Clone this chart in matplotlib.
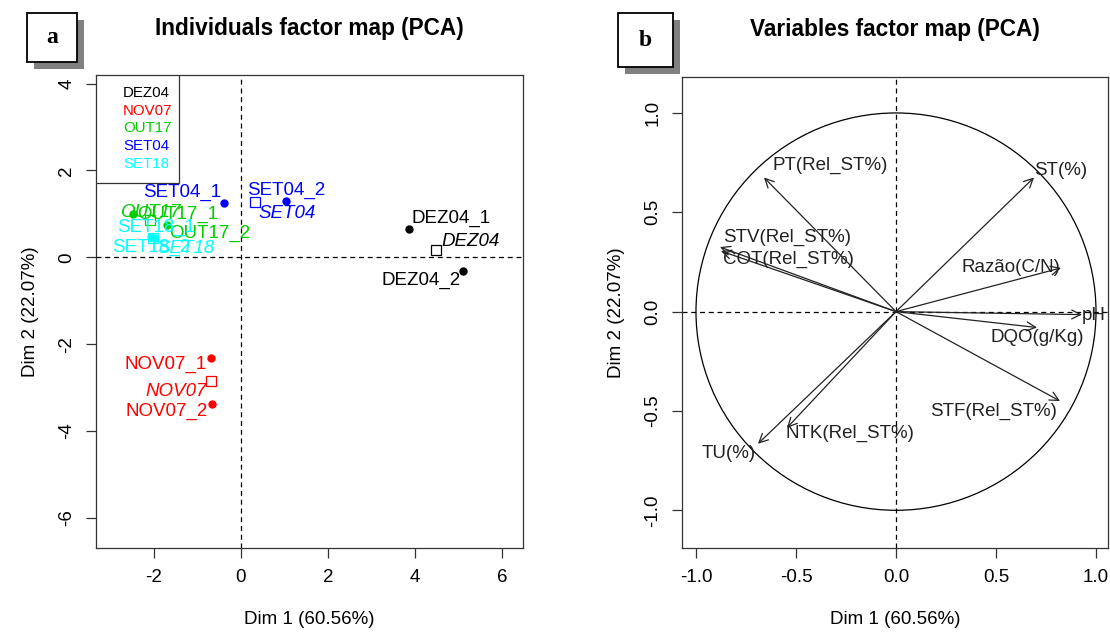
"""
PCA factor maps: individuals (a) and variables (b)
"""

import matplotlib
matplotlib.use('Agg')
from matplotlib import pyplot as plt
from matplotlib.patches import Circle, Rectangle
import numpy as np

plt.rcParams['font.family'] = ['Liberation Sans', 'DejaVu Sans']
plt.rcParams['axes.unicode_minus'] = False

# --------------------------------------------------------------------------------------------------
# Data
# --------------------------------------------------------------------------------------------------

ind_names = ['DEZ04_1', 'DEZ04_2', 'NOV07_1', 'NOV07_2', 'OUT17_1', 'OUT17_2',
             'SET04_1', 'SET04_2', 'SET18_1', 'SET18_2']
ind_group = ['DEZ04', 'DEZ04', 'NOV07', 'NOV07', 'OUT17', 'OUT17',
             'SET04', 'SET04', 'SET18', 'SET18']
ind_dim1 = [3.86, 5.10, -0.69, -0.67, -2.48, -1.70, -0.39, 1.03, -2.07, -1.98]
ind_dim2 = [0.65, -0.32, -2.31, -3.37, 0.99, 0.74, 1.25, 1.29, 0.46, 0.44]

groups = ['DEZ04', 'NOV07', 'OUT17', 'SET04', 'SET18']
group_colors = ['black', '#FF0000', '#00CD00', '#0000FF', '#00FFFF']

var_names = ['ST(%)', 'PT(Rel_ST%)', 'STV(Rel_ST%)', 'COT(Rel_ST%)', 'Razão(C/N)',
             'pH', 'DQO(g/Kg)', 'STF(Rel_ST%)', 'NTK(Rel_ST%)', 'TU(%)']
var_dim1 = [0.69, -0.66, -0.88, -0.875, 0.825, 0.93, 0.705, 0.82, -0.545, -0.69]
var_dim2 = [0.675, 0.675, 0.325, 0.305, 0.22, -0.015, -0.08, -0.45, -0.585, -0.665]

dim1_label = 'Dim 1 (60.56%)'
dim2_label = 'Dim 2 (22.07%)'

# label placement (offset from the mark, horizontal alignment)
ind_label_pos = [(0.05, 0.25, 'left'), (-0.04, -0.21, 'right'), (-0.09, -0.16, 'right'),
                 (-0.09, -0.19, 'right'), (0.09, 0.0, 'left'), (0.04, -0.19, 'left'),
                 (-0.07, 0.25, 'right'), (0.0, 0.26, 'center'), (-0.78, 0.23, 'left'),
                 (-0.99, -0.21, 'left')]
grp_label_pos = [(0.12, 0.21, 'left'), (-0.11, -0.25, 'right'), (-0.67, 0.17, 'left'),
                 (0.09, -0.25, 'left'), (0.10, -0.24, 'left')]
var_label_pos = [(0.0, 0.035, 'left'), (0.045, 0.06, 'left'), (0.015, 0.05, 'left'),
                 (0.01, -0.04, 'left'), (-0.005, 0.0, 'right'), (0.0, -0.005, 'left'),
                 (0.0, -0.05, 'center'), (-0.015, -0.05, 'right'), (-0.005, -0.03, 'left'),
                 (-0.01, -0.05, 'right')]

FS = 13.5
EDGE = '#333333'

# --------------------------------------------------------------------------------------------------
# Figure
# --------------------------------------------------------------------------------------------------

fig = plt.figure(figsize=(11.1, 6.38), dpi=100)
ax1 = fig.add_axes([0.0865, 0.141, 0.3847, 0.7414])
ax2 = fig.add_axes([0.6144, 0.141, 0.3838, 0.738])


def style_axes(ax):
    for s in ax.spines.values():
        s.set_color(EDGE)
        s.set_linewidth(0.9)
    ax.tick_params(direction='out', length=7, width=0.9, color=EDGE, labelsize=FS, pad=8)
    for lab in ax.get_yticklabels():
        lab.set_rotation(90)
        lab.set_va('center')
    ax.set_xlabel(dim1_label, fontsize=FS, labelpad=18)
    ax.set_ylabel(dim2_label, fontsize=FS, labelpad=14)
    ax.axhline(0, color='black', lw=0.9, ls=(0, (4, 3)), zorder=1)
    ax.axvline(0, color='black', lw=0.9, ls=(0, (4, 3)), zorder=1)


# ---- panel a: individuals --------------------------------------------------------------------
ax1.set_xlim(-3.33, 6.48)
ax1.set_ylim(-6.7, 4.2)
ax1.set_xticks([-2, 0, 2, 4, 6])
ax1.set_yticks([-6, -4, -2, 0, 2, 4])
style_axes(ax1)

col_of = dict(zip(groups, group_colors))
x1 = np.array(ind_dim1)
y1 = np.array(ind_dim2)
for i, name in enumerate(ind_names):
    c = col_of[ind_group[i]]
    ax1.plot(x1[i], y1[i], 'o', color=c, markersize=5, zorder=3)
    dx, dy, ha = ind_label_pos[i]
    ax1.text(x1[i] + dx, y1[i] + dy, name, color=c, fontsize=FS, ha=ha, va='center', zorder=4)

for g, (name, c) in enumerate(zip(groups, group_colors)):
    m = np.array([gr == name for gr in ind_group])
    cx, cy = x1[m].mean(), y1[m].mean()
    ax1.plot(cx, cy, 's', mfc='none', mec=c, markersize=7, mew=0.9, zorder=3)
    dx, dy, ha = grp_label_pos[g]
    ax1.text(cx + dx, cy + dy, name, color=c, fontsize=FS, style='italic',
             ha=ha, va='center', zorder=4)

# legend box (text only, like R's legend)
ax1.add_patch(Rectangle((0, 0.772), 0.194, 0.228, transform=ax1.transAxes,
                        fill=True, fc='white', ec=EDGE, lw=0.9, zorder=5))
for k, (name, c) in enumerate(zip(groups, group_colors)):
    ax1.text(0.063, 0.962 - k * 0.0375, name, color=c, fontsize=10.8,
             transform=ax1.transAxes, ha='left', va='center', zorder=6)

fig.text(0.2789, 0.956, 'Individuals factor map (PCA)', fontsize=16.3, fontweight='bold',
         ha='center', va='center')

# ---- panel b: variables ----------------------------------------------------------------------
ax2.set_xlim(-1.07, 1.06)
ax2.set_ylim(-1.19, 1.18)
ax2.set_xticks([-1.0, -0.5, 0.0, 0.5, 1.0])
ax2.set_yticks([-1.0, -0.5, 0.0, 0.5, 1.0])
ax2.set_xticklabels(['-1.0', '-0.5', '0.0', '0.5', '1.0'])
ax2.set_yticklabels(['-1.0', '-0.5', '0.0', '0.5', '1.0'])
style_axes(ax2)

ax2.add_patch(Circle((0, 0), 1.0, fill=False, ec='black', lw=0.9, zorder=2))
for i, name in enumerate(var_names):
    ax2.annotate('', xy=(var_dim1[i], var_dim2[i]), xytext=(0, 0),
                 arrowprops=dict(arrowstyle='->', color='#222222', lw=0.9,
                                 mutation_scale=16, shrinkA=0, shrinkB=0), zorder=3)
    dx, dy, ha = var_label_pos[i]
    ax2.text(var_dim1[i] + dx, var_dim2[i] + dy, name, fontsize=FS, color='#222222',
             ha=ha, va='center', zorder=4)

fig.text(0.806, 0.953, 'Variables factor map (PCA)', fontsize=16.3, fontweight='bold',
         ha='center', va='center')

# ---- panel letters with drop shadow ----------------------------------------------------------
for (bx, by, bw, bh, letter) in [(0.0243, 0.9028, 0.045, 0.0768, 'a'),
                                 (0.5568, 0.895, 0.0495, 0.0846, 'b')]:
    fig.patches.append(Rectangle((bx + 0.0063, by - 0.011), bw, bh, transform=fig.transFigure,
                                 fc='#808080', ec='none', zorder=1))
    fig.patches.append(Rectangle((bx, by), bw, bh, transform=fig.transFigure,
                                 fc='white', ec='black', lw=1.3, zorder=2))
    fig.text(bx + bw / 2, by + bh / 2, letter, fontsize=17, fontweight='bold',
             family='Liberation Serif', ha='center', va='center', zorder=3)

fig.savefig('out.png', dpi=100)
